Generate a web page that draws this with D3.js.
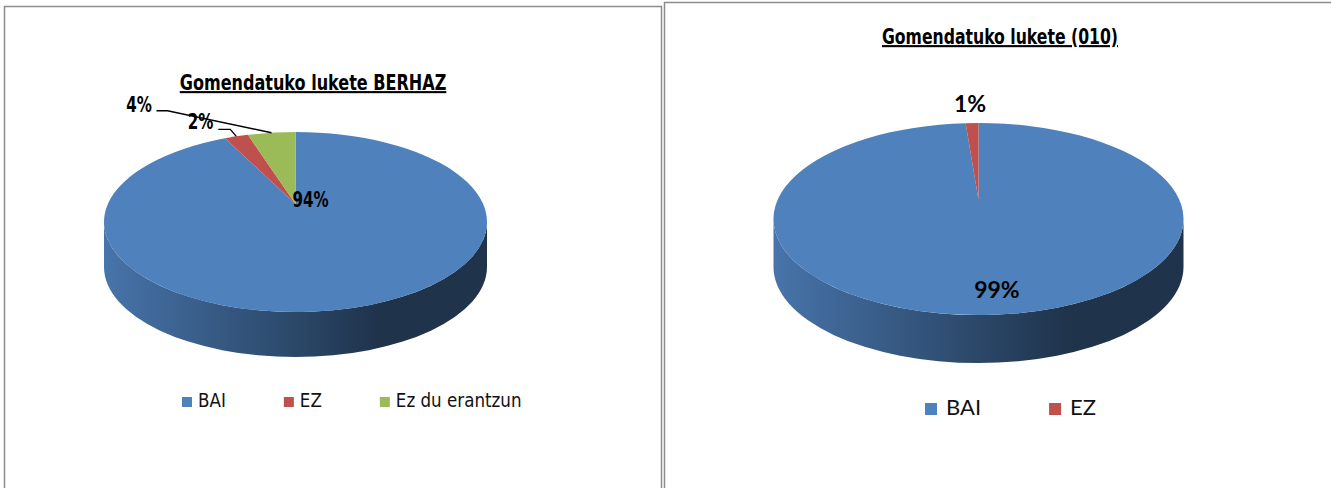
<!DOCTYPE html>
<html>
<head>
<meta charset="utf-8">
<script src="https://cdn.jsdelivr.net/npm/d3@7"></script>
<style>
  body { margin: 0; background: #fff; }
  .narrow { font-family: "Liberation Sans Narrow", "Arial Narrow", "DejaVu Sans Condensed", sans-serif; }
  .calib { font-family: Lato, "Open Sans", sans-serif; }
</style>
</head>
<body>
<script>
// data
const leftTitle = "Gomendatuko lukete BERHAZ"
const leftCategories = ["BAI", "EZ", "Ez du erantzun"]
const leftValues = [94, 2, 4]

const rightTitle = "Gomendatuko lukete (010)"
const rightCategories = ["BAI", "EZ"]
const rightValues = [99, 1]

const COLORS = ["#4f81bd", "#c0504d", "#9bbb59"]

const WIDTH = 1331
const HEIGHT = 488

const svg = d3.select("body")
  .append("svg")
  .attr("width", WIDTH)
  .attr("height", HEIGHT)

const defs = svg.append("defs")

// panel frames
svg.append("rect")
  .attr("x", 4.5).attr("y", 6.5)
  .attr("width", 657).attr("height", 520)
  .attr("fill", "none").attr("stroke", "#8c8c8c").attr("stroke-width", 1.5)
svg.append("rect")
  .attr("x", 664.5).attr("y", 2.5)
  .attr("width", 700).attr("height", 520)
  .attr("fill", "none").attr("stroke", "#8c8c8c").attr("stroke-width", 1.5)

const color = d3.scaleOrdinal().range(COLORS)

function rim(c, a, dy = 0) {
  return [c.cx + c.rx * Math.sin(a), c.cy - c.ry * Math.cos(a) + dy]
}

// text squeezed horizontally, the original font is a condensed one
function squeezed(g, x, y, sx, cls) {
  return g.append("text")
    .attr("class", cls)
    .attr("transform", `translate(${x},${y}) scale(${sx},1)`)
}

function drawPie(id, cats, vals, opt) {
  const g = svg.append("g").attr("id", id)
  const data = cats.map((c, i) => ({ cat: c, value: vals[i] }))
  const total = d3.sum(vals)
  const arcs = d3.pie().sort(null).value(d => d.value)(data)
  const apex = [opt.cx, opt.cy - opt.ry * 0.2]

  // side gradients, one per slice colour
  arcs.forEach((d, i) => {
    const base = d3.color(color(d.data.cat))
    const grad = defs.append("linearGradient")
      .attr("id", `${id}-side-${i}`)
      .attr("gradientUnits", "userSpaceOnUse")
      .attr("x1", opt.cx - opt.rx).attr("x2", opt.cx + opt.rx)
      .attr("y1", 0).attr("y2", 0)
    grad.append("stop").attr("offset", "0%").attr("stop-color", base.darker(0.3))
    grad.append("stop").attr("offset", "45%").attr("stop-color", base.darker(1.5))
    grad.append("stop").attr("offset", "72%").attr("stop-color", base.darker(2.6))
    grad.append("stop").attr("offset", "100%").attr("stop-color", base.darker(2.6))
  })

  // visible front wall
  g.selectAll("path.side")
    .data(arcs)
    .enter()
    .append("path")
    .attr("class", "side")
    .attr("fill", (d, i) => `url(#${id}-side-${i})`)
    .attr("d", d => {
      const s = Math.max(d.startAngle, Math.PI / 2)
      const e = Math.min(d.endAngle, 3 * Math.PI / 2)
      if (s >= e) return null
      const p0 = rim(opt, s), p1 = rim(opt, e)
      const q0 = rim(opt, s, opt.depth), q1 = rim(opt, e, opt.depth)
      return `M${p0} A${opt.rx},${opt.ry} 0 0 1 ${p1} L${q1} A${opt.rx},${opt.ry} 0 0 0 ${q0} Z`
    })

  // top face
  g.selectAll("path.top")
    .data(arcs)
    .enter()
    .append("path")
    .attr("class", "top")
    .attr("fill", d => color(d.data.cat))
    .attr("d", d => {
      const p0 = rim(opt, d.startAngle), p1 = rim(opt, d.endAngle)
      const large = d.endAngle - d.startAngle > Math.PI ? 1 : 0
      return `M${apex} L${p0} A${opt.rx},${opt.ry} 0 ${large} 1 ${p1} Z`
    })

  // title
  squeezed(g, opt.titleX, opt.titleY, opt.titleScale, "narrow")
    .attr("text-anchor", "middle")
    .attr("font-size", opt.titleSize)
    .attr("font-weight", "bold")
    .attr("text-decoration", "underline")
    .text(opt.title)

  // data labels
  arcs.forEach((d, i) => {
    const lab = opt.labels[i]
    const mid = (d.startAngle + d.endAngle) / 2
    const anchor = lab.type === "apex" ? apex : rim(opt, mid)
    const pct = Math.round(d.value / total * 100) + "%"
    if (lab.elbow) {
      const el = [anchor[0] + lab.elbow[0], anchor[1] + lab.elbow[1]]
      g.append("path")
        .attr("fill", "none").attr("stroke", "#000").attr("stroke-width", 1.4)
        .attr("d", `M${anchor} L${el} L${el[0] - lab.tail},${el[1]}`)
    }
    squeezed(g, anchor[0] + lab.dx, anchor[1] + lab.dy, opt.labelScale, opt.labelClass)
      .attr("text-anchor", lab.anchor || "middle")
      .attr("font-size", opt.labelSize)
      .attr("font-weight", "bold")
      .text(pct)
  })

  // legend
  const leg = g.append("g")
  let x = opt.legendX
  data.forEach(d => {
    leg.append("rect")
      .attr("x", x).attr("y", opt.legendY - opt.box)
      .attr("width", opt.box).attr("height", opt.box)
      .attr("fill", color(d.cat))
    const t = squeezed(leg, x + opt.box + opt.boxGap, opt.legendY, opt.legendScale, opt.legendClass)
      .attr("font-size", opt.legendSize)
      .attr("fill", "#111")
      .text(d.cat)
    x += opt.box + opt.boxGap + t.node().getComputedTextLength() * opt.legendScale + opt.itemGap
  })
}

drawPie("left", leftCategories, leftValues, {
  cx: 295.5, cy: 222, rx: 191.5, ry: 90, depth: 45,
  title: leftTitle, titleX: 313, titleY: 90, titleSize: 21, titleScale: 0.85,
  labelClass: "narrow", labelSize: 21, labelScale: 0.8,
  labels: [
    { type: "apex", dx: -3, dy: 3, anchor: "start" },
    { elbow: [-6, -7], tail: 12, dx: -23, dy: -7, anchor: "end" },
    { elbow: [-104, -22], tail: 11, dx: -119.5, dy: -21, anchor: "end" }
  ],
  legendX: 182, legendY: 407, box: 10, boxGap: 6, itemGap: 58,
  legendSize: 20, legendScale: 0.93, legendClass: "narrow"
})

drawPie("right", rightCategories, rightValues, {
  cx: 978.5, cy: 219, rx: 205, ry: 96, depth: 48,
  title: rightTitle, titleX: 1000, titleY: 44, titleSize: 21, titleScale: 0.83,
  labelClass: "calib", labelSize: 23, labelScale: 1,
  labels: [
    { type: "rim", dx: 12, dy: -17, anchor: "middle" },
    { type: "rim", dx: -2, dy: -11, anchor: "middle" }
  ],
  legendX: 925, legendY: 415, box: 12, boxGap: 9, itemGap: 68,
  legendSize: 22, legendScale: 1, legendClass: "calib"
})
</script>
</body>
</html>
